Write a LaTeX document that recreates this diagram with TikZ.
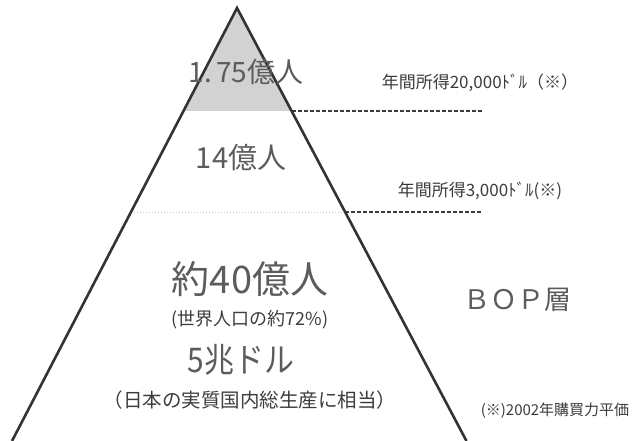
\documentclass[tikz,border=0pt]{standalone}
\usepackage{fontspec}
\setmainfont{Noto Sans CJK JP}
\definecolor{sidecol}{HTML}{333333}
\definecolor{bigtext}{HTML}{5C5C5C}
\definecolor{smalltext}{HTML}{3C3C3C}
\begin{document}
\begin{tikzpicture}[x=1pt,y=-1pt,
  side/.style={draw=sidecol,line width=2.6pt,line join=miter},
  dashline/.style={draw=smalltext,line width=2pt,dash pattern=on 4pt off 2pt},
  lightline/.style={draw=gray!45,line width=1pt,dotted},
  txt/.style={inner sep=0pt,anchor=center},
  bignum/.style={txt,text=bigtext},
  smalltxt/.style={txt,text=smalltext}]
\useasboundingbox (0,0) rectangle (637,441);
\coordinate (apex) at (237,8);
\coordinate (bl) at (12,441);
\coordinate (br) at (466.5,441);
\coordinate (l1) at (183.5,111);
\coordinate (r1) at (291.6,111);
\coordinate (l2) at (131,212);
\coordinate (r2) at (345,212);
\coordinate (e1) at (482,111);
\coordinate (e2) at (482,212);
\fill[gray!35] (apex) -- (l1) -- (r1) -- cycle;
\draw[lightline] (l2) -- (r2);
\draw[dashline] (r1) -- (e1);
\draw[dashline] (r2) -- (e2);
\draw[side] (bl) -- (apex) -- (br);
\node[bignum,font=\fontsize{28}{28}\selectfont] (t1) at (246,72) {1.\,75億人};
\node[bignum,font=\fontsize{29}{29}\selectfont] (t2) at (241,158) {14億人};
\node[bignum,font=\fontsize{38}{38}\selectfont] (t3) at (250,279) {約40億人};
\node[smalltxt,font=\fontsize{18}{18}\selectfont] (t4) at (250,320) {(世界人口の約72\%)};
\node[bignum,font=\fontsize{34}{34}\selectfont,xscale=0.88,transform shape] (t5) at (241,360) {5兆ドル};
\node[smalltxt,font=\fontsize{19.5}{19.5}\selectfont] (t6) at (250,400) {（日本の実質国内総生産に相当）};
\node[smalltxt,font=\fontsize{17}{17}\selectfont] (n1) at (480,83) {年間所得20,000ﾄﾞﾙ（※）};
\node[smalltxt,font=\fontsize{17}{17}\selectfont] (n2) at (480,191) {年間所得3,000ﾄﾞﾙ(※)};
\node[bignum,font=\fontsize{27}{27}\selectfont] (bop) at (517,300) {ＢＯＰ層};
\node[smalltxt,font=\fontsize{15}{15}\selectfont] (note) at (555,411) {(※)2002年購買力平価};
\end{tikzpicture}
\end{document}
